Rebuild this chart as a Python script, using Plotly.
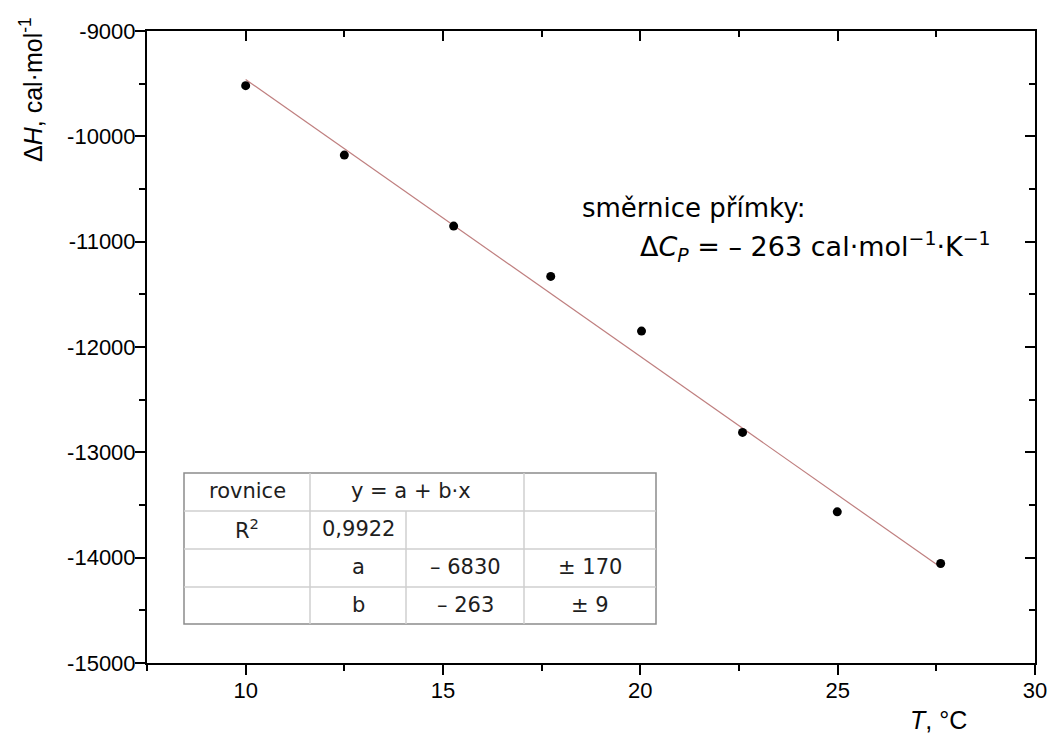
import plotly.graph_objects as go

# ---------------- data ----------------
temperature_c = [10.0, 12.5, 15.27, 17.73, 20.03, 22.59, 24.99, 27.61]
delta_h = [-9519, -10178, -10852, -11330, -11849, -12811, -13565, -14055]

fit_a = -6830
fit_b = -263

x_tick_vals = [10, 15, 20, 25, 30]
x_tick_labels = ["10", "15", "20", "25", "30"]
y_tick_vals = [-15000, -14000, -13000, -12000, -11000, -10000, -9000]
y_tick_labels = ["-15000", "-14000", "-13000", "-12000", "-11000", "-10000", "-9000"]

table_col1 = ["rovnice", "R<sup>2</sup>", "", ""]
table_col2 = ["y = a + b·x", "0,9922", "a", "b"]
table_col3 = ["", "", "– 6830", "– 263"]
table_col4 = ["", "", "± 170", "± 9"]

note_line1 = "směrnice přímky:"
note_line2 = "Δ<i>C</i><sub><i>P</i></sub> = – 263 cal·mol<sup>−1</sup>·K<sup>−1</sup>"

# ---------------- layout helpers ----------------
W, H = 1051, 735
ML, MR, MT, MB = 147, 16, 31, 72
PW, PH = W - ML - MR, H - MT - MB


def px(xp):
    return (xp - ML) / PW


def py(yp):
    return (H - MB - yp) / PH


fit_x = [temperature_c[0], temperature_c[-1]]
fit_y = [fit_a + fit_b * t for t in fit_x]

fig = go.Figure()
fig.add_trace(go.Scatter(x=fit_x, y=fit_y, mode="lines",
                         line=dict(color="#bf7f7f", width=1.2),
                         hoverinfo="skip", showlegend=False))
fig.add_trace(go.Scatter(x=temperature_c, y=delta_h, mode="markers",
                         marker=dict(color="black", size=9),
                         showlegend=False))
# invisible trace to create the mirrored (top/right) axes
fig.add_trace(go.Scatter(x=temperature_c, y=delta_h, mode="markers",
                         marker=dict(opacity=0), xaxis="x2", yaxis="y2",
                         hoverinfo="skip", showlegend=False))

tickfont = dict(family="Arial, Liberation Sans, sans-serif", size=22, color="black")
xr = [7.5, 30]
yr = [-15000, -9000]

common = dict(showline=True, linecolor="black", linewidth=2, showgrid=False,
              zeroline=False, automargin=False, tickwidth=2, tickcolor="black", ticklen=10)

fig.update_layout(
    width=W, height=H,
    margin=dict(l=ML, r=MR, t=MT, b=MB, autoexpand=False),
    paper_bgcolor="white", plot_bgcolor="white",
    xaxis=dict(range=xr, tickmode="array", tickvals=x_tick_vals, ticktext=x_tick_labels,
               ticks="outside",
               minor=dict(tickmode="linear", tick0=7.5, dtick=2.5, ticks="outside",
                          ticklen=6, tickwidth=2, tickcolor="black"),
               tickfont=tickfont, ticklabelstandoff=-3, **common),
    yaxis=dict(range=yr, tickmode="array", tickvals=y_tick_vals, ticktext=y_tick_labels,
               ticks="outside",
               minor=dict(tickmode="linear", tick0=-15000, dtick=500, ticks="outside",
                          ticklen=6, tickwidth=2, tickcolor="black"),
               tickfont=tickfont, ticklabelstandoff=-5, **common),
    xaxis2=dict(range=xr, overlaying="x", side="top", tickmode="array", tickvals=x_tick_vals,
                ticks="inside",
                minor=dict(tickmode="linear", tick0=7.5, dtick=2.5, ticks="inside",
                           ticklen=6, tickwidth=2, tickcolor="black"),
                showticklabels=False, **common),
    yaxis2=dict(range=yr, overlaying="y", side="right", tickmode="array", tickvals=y_tick_vals,
                ticks="inside",
                minor=dict(tickmode="linear", tick0=-15000, dtick=500, ticks="inside",
                           ticklen=6, tickwidth=2, tickcolor="black"),
                showticklabels=False, **common),
)

annotations = []
# axis titles
annotations.append(dict(text="Δ<i>H</i>, cal·mol<sup>-1</sup>", xref="paper", yref="paper",
                        x=px(31), y=py(90), xanchor="center", yanchor="middle",
                        textangle=-90, showarrow=False,
                        font=dict(family="Arial, Liberation Sans, sans-serif", size=25, color="black")))
annotations.append(dict(text="<i>T</i>, °C", xref="paper", yref="paper",
                        x=px(938), y=py(720), xanchor="center", yanchor="middle",
                        showarrow=False,
                        font=dict(family="Arial, Liberation Sans, sans-serif", size=25, color="black")))
# slope note
note_font = dict(family="DejaVu Sans, Verdana, sans-serif", size=26, color="black")
note_font2 = dict(family="DejaVu Sans, Verdana, sans-serif", size=27, color="black")
annotations.append(dict(text=note_line1, xref="paper", yref="paper", x=px(580), y=py(208),
                        xanchor="left", yanchor="middle", showarrow=False, font=note_font))
annotations.append(dict(text=note_line2, xref="paper", yref="paper", x=px(638), y=py(246),
                        xanchor="left", yanchor="middle", showarrow=False, font=note_font2))

# table
tx = [184, 310, 406, 524, 656]
ty = [473, 511, 549, 587, 624]
shapes = []
outer = dict(color="#8c8c8c", width=1.5)
inner = dict(color="#cfcfcf", width=1.5)
shapes.append(dict(type="rect", xref="paper", yref="paper", x0=px(tx[0]), x1=px(tx[-1]),
                   y0=py(ty[0]), y1=py(ty[-1]), line=outer, fillcolor="white", layer="above"))
for yy in ty[1:-1]:
    shapes.append(dict(type="line", xref="paper", yref="paper", x0=px(tx[0]), x1=px(tx[-1]),
                       y0=py(yy), y1=py(yy), line=inner, layer="above"))
for i, xx in enumerate(tx[1:-1], start=1):
    ystart = ty[1] if i == 2 else ty[0]
    shapes.append(dict(type="line", xref="paper", yref="paper", x0=px(xx), x1=px(xx),
                       y0=py(ystart), y1=py(ty[-1]), line=inner, layer="above"))

table_font = dict(family="DejaVu Sans, Verdana, sans-serif", size=21, color="#1e1e1e")
col_centers = [(tx[i] + tx[i + 1]) / 2 for i in range(4)]
columns = [table_col1, table_col2, table_col3, table_col4]
for r in range(4):
    yc = (ty[r] + ty[r + 1]) / 2 - 1
    for c in range(4):
        txt = columns[c][r]
        if not txt:
            continue
        xc = col_centers[c]
        if r == 0 and c == 1:
            xc = (tx[1] + tx[3]) / 2 - 6
        annotations.append(dict(text=txt, xref="paper", yref="paper", x=px(xc), y=py(yc),
                                xanchor="center", yanchor="middle", showarrow=False,
                                font=table_font))

fig.update_layout(annotations=annotations, shapes=shapes)
fig.write_html("out.html")
